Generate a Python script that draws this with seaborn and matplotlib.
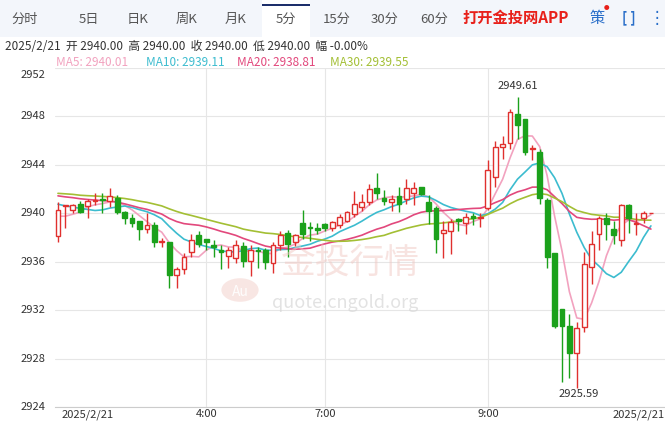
import numpy as np
import pandas as pd
import matplotlib
matplotlib.use("Agg")
import matplotlib.pyplot as plt
import seaborn as sns
from matplotlib.patches import Rectangle, Circle

# OHLC of the 5-minute candles
opens = [2938.1, 2940.6, 2940.3, 2940.8, 2940.6, 2941.0, 2941.2, 2941.0, 2941.3, 2940.1,
         2939.6, 2939.4, 2938.7, 2939.0, 2937.6, 2937.6, 2934.9, 2935.4, 2936.8, 2938.2,
         2937.9, 2937.4, 2937.0, 2936.5, 2936.3, 2937.3, 2936.1, 2937.0, 2937.0, 2935.9,
         2937.4, 2938.4, 2937.6, 2939.2, 2938.9, 2938.8, 2939.1, 2938.8, 2939.0, 2939.4,
         2939.9, 2940.5, 2940.9, 2942.1, 2941.3, 2940.9, 2941.4, 2941.2, 2941.7, 2942.2,
         2940.9, 2940.4, 2938.4, 2938.5, 2939.5, 2939.2, 2939.8, 2939.6, 2940.4, 2943.0,
         2945.5, 2945.8, 2948.2, 2947.8, 2945.3, 2945.1, 2941.1, 2936.7, 2932.1, 2930.7,
         2928.5, 2930.6, 2935.6, 2938.3, 2939.6, 2938.7, 2937.8, 2940.7, 2939.1, 2939.6, 2940.0]
closes = [2940.3, 2940.6, 2940.7, 2940.1, 2941.0, 2941.1, 2941.1, 2941.4, 2940.1, 2939.6,
          2939.2, 2938.7, 2939.0, 2937.6, 2937.7, 2934.9, 2935.4, 2936.4, 2937.8, 2937.5,
          2937.6, 2937.2, 2936.8, 2937.0, 2937.4, 2936.1, 2937.0, 2936.9, 2936.0, 2937.4,
          2938.2, 2937.5, 2938.2, 2938.3, 2938.8, 2938.6, 2938.8, 2939.3, 2939.7, 2940.1,
          2940.8, 2940.9, 2942.0, 2941.7, 2941.0, 2941.2, 2940.8, 2942.1, 2942.1, 2941.6,
          2940.2, 2937.9, 2938.6, 2939.3, 2939.4, 2939.7, 2939.6, 2939.7, 2943.6, 2945.5,
          2945.7, 2948.4, 2947.3, 2945.1, 2945.4, 2941.3, 2936.4, 2930.7, 2930.7, 2928.5,
          2930.5, 2935.8, 2937.5, 2939.6, 2939.1, 2938.2, 2940.7, 2939.6, 2939.1, 2940.0, 2940.0]
highs = [2940.9, 2940.7, 2940.8, 2941.0, 2941.2, 2941.7, 2941.7, 2942.1, 2941.5, 2940.2,
         2939.9, 2939.4, 2940.0, 2939.3, 2938.0, 2937.6, 2935.6, 2936.7, 2938.3, 2938.5,
         2937.9, 2937.8, 2937.4, 2937.2, 2937.8, 2937.6, 2937.4, 2937.2, 2937.1, 2937.6,
         2938.5, 2938.6, 2938.3, 2940.3, 2939.3, 2939.2, 2939.2, 2939.4, 2939.9, 2940.2,
         2941.8, 2941.6, 2942.4, 2943.3, 2941.9, 2941.5, 2942.2, 2942.8, 2942.6, 2942.2,
         2941.5, 2940.6, 2939.4, 2939.5, 2939.6, 2940.0, 2940.0, 2940.0, 2944.4, 2946.0,
         2946.4, 2948.6, 2949.61, 2947.8, 2945.6, 2945.3, 2941.3, 2936.7, 2932.1, 2931.7,
         2931.0, 2936.8, 2938.5, 2939.8, 2940.0, 2939.4, 2940.8, 2940.8, 2940.0, 2940.2, 2940.0]
lows = [2937.6, 2938.8, 2940.0, 2940.0, 2939.6, 2940.7, 2940.0, 2940.5, 2939.9, 2939.1,
        2938.9, 2937.8, 2938.4, 2937.2, 2937.2, 2933.8, 2933.8, 2935.0, 2936.4, 2937.2,
        2937.0, 2936.4, 2935.4, 2935.5, 2935.9, 2935.6, 2934.8, 2935.5, 2935.4, 2935.1,
        2937.0, 2936.4, 2937.3, 2937.9, 2937.7, 2938.3, 2938.5, 2938.5, 2938.8, 2939.3,
        2939.7, 2940.2, 2940.7, 2941.2, 2940.7, 2940.2, 2940.1, 2940.8, 2940.7, 2941.5,
        2939.1, 2936.7, 2936.3, 2936.6, 2938.5, 2938.3, 2939.0, 2938.9, 2940.3, 2942.2,
        2944.5, 2945.3, 2946.1, 2944.8, 2944.4, 2940.8, 2935.5, 2930.5, 2926.1, 2926.4,
        2925.59, 2930.2, 2934.2, 2937.0, 2937.8, 2937.5, 2937.3, 2938.4, 2938.2, 2939.2, 2940.0]
# closes before the window, only used to warm up the moving averages
prev_closes = [2941.8, 2942.0, 2942.3, 2942.1, 2941.9, 2942.2, 2942.4, 2942.0, 2941.8, 2942.1,
               2942.3, 2942.0, 2941.9, 2942.2, 2942.1, 2941.9, 2942.0, 2942.2, 2942.3, 2942.4,
               2942.0, 2941.6, 2941.3, 2941.8, 2942.0, 2940.6, 2939.9, 2939.2, 2938.8]

y_ticks = [2924, 2928, 2932, 2936, 2940, 2944, 2948, 2952]
x_tick_pos = [20, 36, 58]
x_tick_labels = ["4:00", "7:00", "9:00"]
date_label = "2025/2/21"
tabs = ["分时", "5日", "日K", "周K", "月K", "5分", "15分", "30分", "60分"]
tab_x = [25, 89, 138, 187, 236, 286, 337, 385, 434]
ma_windows = [5, 10, 20, 30]
ma_colors = ["#f2a2bf", "#3cbccf", "#e2487c", "#a3bf34"]
ma_labels = ["MA5: 2940.01", "MA10: 2939.11", "MA20: 2938.81", "MA30: 2939.55"]
ma_label_x = [56, 146, 237, 330]

sns.set_style("white")
plt.rcParams["font.family"] = ["Noto Sans CJK SC", "DejaVu Sans"]

W, H = 665, 421
fig = plt.figure(figsize=(W / 100, H / 100), dpi=100)

def fx(px):
    return px / W

def fy(py):
    return 1 - py / H

# header tab bar
fig.patches.append(Rectangle((0, fy(37)), 1, 37 / H, transform=fig.transFigure,
                             facecolor="#f3f6fb", edgecolor="none", zorder=0))
fig.patches.append(Rectangle((fx(262), fy(38)), 48 / W, 38 / H, transform=fig.transFigure,
                             facecolor="white", edgecolor="none", zorder=1))
fig.patches.append(Rectangle((fx(262), fy(6)), 48 / W, 2 / H, transform=fig.transFigure,
                             facecolor="#1d2f6b", edgecolor="none", zorder=2))
for t, x in zip(tabs, tab_x):
    fig.text(fx(x), fy(19), t, ha="center", va="center", fontsize=9.5, color="#555555", zorder=3)
fig.text(fx(462), fy(18), "打开金投网APP", ha="left", va="center", fontsize=11,
         color="#e8201a", fontweight="bold")
fig.text(fx(597), fy(18), "策", ha="center", va="center", fontsize=11, color="#2a6fc9")
fig.text(fx(606), fy(9), "●", ha="center", va="center", fontsize=4, color="#e8201a")
fig.text(fx(629), fy(18), "[ ]", ha="center", va="center", fontsize=10, color="#2a6fc9", fontweight="bold")
fig.text(fx(657), fy(18), "⋮", ha="center", va="center", fontsize=12, color="#2a6fc9",
         family=["DejaVu Sans"])

fig.text(fx(5), fy(47), date_label + "  开 2940.00  高 2940.00  收 2940.00  低 2940.00  幅 -0.00%",
         ha="left", va="center", fontsize=8.5, color="#333333")
for lab, c, x in zip(ma_labels, ma_colors, ma_label_x):
    fig.text(fx(x), fy(62), lab, ha="left", va="center", fontsize=8.5, color=c)

# price panel
ax = fig.add_axes([fx(55), fy(407), 1 - fx(55), (407 - 68) / H])
n = len(closes)
idx = np.arange(n)
all_closes = pd.Series(prev_closes + closes)
for w, c in zip(ma_windows, ma_colors):
    ma = all_closes.rolling(w, min_periods=1).mean().iloc[len(prev_closes):].to_numpy()
    sns.lineplot(x=idx, y=ma, ax=ax, color=c, linewidth=1.2, zorder=2)

red, green = "#e0302e", "#1ba11b"
for i in idx:
    o, c, h, l = opens[i], closes[i], highs[i], lows[i]
    col = red if c >= o else green
    ax.vlines(i, l, h, color=col, linewidth=1, zorder=3)
    bot, ht = min(o, c), max(abs(c - o), 0.06)
    ax.add_patch(Rectangle((i - 0.32, bot), 0.64, ht, facecolor="white" if c >= o else green,
                           edgecolor=col, linewidth=1, zorder=4))

ax.set_xlim(-0.4, 81.9)
ax.set_ylim(2924, 2952)
ax.set_yticks(y_ticks)
ax.set_yticklabels([])
ax.set_xticks(x_tick_pos)
ax.set_xticklabels([])
ax.tick_params(length=0)
ax.grid(True, color="#e6e6e6", linewidth=0.8)
for s in ["top", "right", "left"]:
    ax.spines[s].set_visible(False)
ax.spines["bottom"].set_color("#cccccc")

for v in y_ticks:
    yy = v if v != 2952 else 2951.4
    ax.text(-0.015, yy, str(v), transform=ax.get_yaxis_transform(), ha="right",
            va="center", fontsize=8, color="#333333")
for p, t in zip(x_tick_pos, x_tick_labels):
    ax.text(p, -0.022, t, transform=ax.get_xaxis_transform(), ha="center", va="center",
            fontsize=8, color="#333333")
ax.text(0.5, -0.022, date_label, transform=ax.get_xaxis_transform(), ha="left",
        va="center", fontsize=8, color="#333333")
ax.text(81.9, -0.022, date_label, transform=ax.get_xaxis_transform(), ha="right",
        va="center", fontsize=8, color="#333333")

ax.annotate("2949.61", (62, 2949.61), xytext=(0, 4), textcoords="offset points",
            ha="center", va="bottom", fontsize=8, color="#333333")
ax.annotate("2925.59", (71, 2925.59), xytext=(-4, -1), textcoords="offset points",
            ha="center", va="top", fontsize=8, color="#333333")

# watermark
fig.patches.append(Circle((fx(240), fy(290)), 0.028, transform=fig.transFigure,
                          facecolor="#f6dcd8", edgecolor="none", alpha=0.7, zorder=0))
fig.text(fx(240), fy(292), "Au", ha="center", va="center", fontsize=10, color="white", alpha=0.9)
fig.text(fx(350), fy(264), "金投行情", ha="center", va="center", fontsize=25,
         color="#f1c8c3", alpha=0.5)
fig.text(fx(345), fy(303), "quote.cngold.org", ha="center", va="center", fontsize=13,
         color="#d7d7d7", alpha=0.7)

fig.savefig("out.png", dpi=100)
